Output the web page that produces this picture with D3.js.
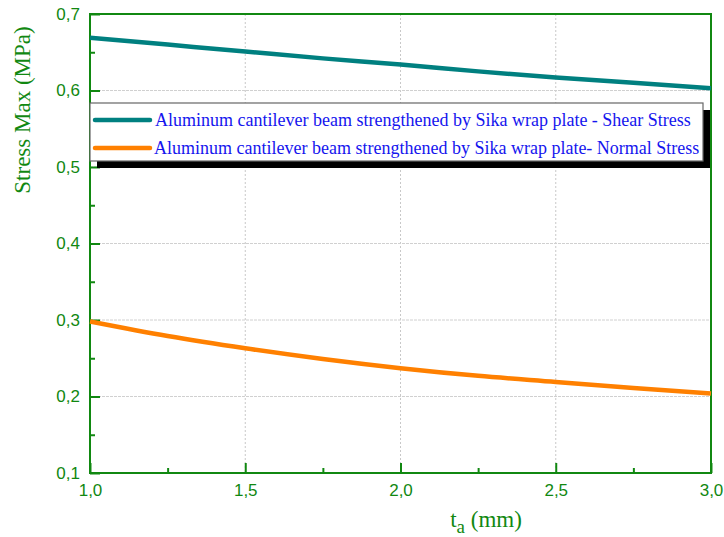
<!DOCTYPE html>
<html>
<head>
<meta charset="utf-8">
<script src="https://cdn.jsdelivr.net/npm/d3@7"></script>
<style>
body{margin:0;background:#fff;}
svg{display:block;}
</style>
</head>
<body>
<svg id="svg" width="724" height="537"></svg>
<script>
// data
var thickness=[1.0,1.25,1.5,1.75,2.0,2.25,2.5,2.75,3.0];
var shearStress=[0.669,0.660,0.651,0.642,0.634,0.625,0.617,0.610,0.603];
var normalStress=[0.298,0.279,0.263,0.249,0.237,0.227,0.219,0.211,0.204];
var xTicks=[1.0,1.5,2.0,2.5,3.0];
var yTicks=[0.1,0.2,0.3,0.4,0.5,0.6,0.7];
var seriesNames=["Aluminum cantilever beam strengthened by Sika wrap plate - Shear Stress",
                 "Aluminum cantilever beam strengthened by Sika wrap plate- Normal Stress"];
var seriesColors=["#008080","#ff8000"];

var green="#118811";
var marginLeft=90,marginTop=14,width=621,height=459;
var svg=d3.select("#svg").append("g")
        .attr("transform","translate("+marginLeft+","+marginTop+")")

var x=d3.scaleLinear().domain([1,3]).range([0,width])
var y=d3.scaleLinear().domain([0.1,0.7]).range([height,0])
var fmt=d=>d3.format(".1f")(d).replace(".",",");

// grid
svg.append("g").selectAll("line").data(xTicks.slice(1,-1)).enter().append("line")
    .attr("x1",d=>x(d)).attr("x2",d=>x(d)).attr("y1",0).attr("y2",height)
    .attr("stroke","#c8c8c8").attr("stroke-dasharray","2,2")
svg.append("g").selectAll("line").data(yTicks.slice(1,-1)).enter().append("line")
    .attr("y1",d=>y(d)).attr("y2",d=>y(d)).attr("x1",0).attr("x2",width)
    .attr("stroke","#d0d0d0").attr("stroke-dasharray","3,1")

// axes with inward ticks
var xAxis=svg.append("g").attr("transform","translate(0,"+height+")")
    .call(d3.axisBottom(x).tickValues(xTicks).tickSize(-10).tickPadding(17).tickFormat(fmt))
var xMinor=svg.append("g").attr("transform","translate(0,"+height+")")
    .call(d3.axisBottom(x).tickValues([1.25,1.75,2.25,2.75]).tickSize(-5).tickFormat(""))
var yAxis=svg.append("g")
    .call(d3.axisLeft(y).tickValues(yTicks).tickSize(-10).tickPadding(10).tickFormat(fmt))
var yMinor=svg.append("g")
    .call(d3.axisLeft(y).tickValues([0.15,0.25,0.35,0.45,0.55,0.65]).tickSize(-5).tickFormat(""))
;[xAxis,xMinor,yAxis,yMinor].forEach(a=>{
    a.selectAll("path").remove();
    a.selectAll("line").attr("stroke",green).attr("stroke-width",2);
    a.selectAll("text").attr("fill",green).style("font-family","Liberation Sans, Arial, sans-serif").style("font-size","17px");
})
xAxis.selectAll("text").attr("dy","0.35em")

// frame
svg.append("rect").attr("width",width).attr("height",height)
    .attr("fill","none").attr("stroke",green).attr("stroke-width",2)

// curves
var line=d3.line().x((d,i)=>x(thickness[i])).y(d=>y(d)).curve(d3.curveMonotoneX)
;[shearStress,normalStress].forEach((s,i)=>{
    svg.append("path").datum(s).attr("d",line)
        .attr("fill","none").attr("stroke",seriesColors[i]).attr("stroke-width",4.5)
})

// legend
var lg=svg.append("g").attr("transform","translate(0,89)")
lg.append("rect").attr("x",7).attr("y",7).attr("width",613).attr("height",58).attr("fill","#000")
lg.append("rect").attr("x",0).attr("y",0).attr("width",613).attr("height",58)
    .attr("fill","#fff").attr("stroke","#666").attr("stroke-width",1.2)
seriesNames.forEach((n,i)=>{
    var yy=17+i*28;
    lg.append("line").attr("x1",5).attr("x2",60).attr("y1",yy).attr("y2",yy)
        .attr("stroke",seriesColors[i]).attr("stroke-width",4.5).attr("stroke-linecap","round")
    lg.append("text").attr("x",i==0?65:64).attr("y",yy).attr("dy","0.35em")
        .attr("fill","#1515ee").style("font-family","Liberation Serif, Times New Roman, serif")
        .style("font-size","18px").text(n)
})

// axis titles
d3.select("#svg").append("text")
    .attr("transform","translate(30,110) rotate(-90)")
    .attr("text-anchor","middle").attr("fill",green)
    .style("font-family","Liberation Serif, Times New Roman, serif").style("font-size","23px")
    .text("Stress Max (MPa)")
var xt=d3.select("#svg").append("text")
    .attr("x",486).attr("y",527).attr("text-anchor","middle").attr("fill",green)
    .style("font-family","Liberation Serif, Times New Roman, serif").style("font-size","23px")
xt.append("tspan").text("t")
xt.append("tspan").attr("dy",6).style("font-size","19px").text("a")
xt.append("tspan").attr("dy",-6).text(" (mm)")
</script>
</body>
</html>
